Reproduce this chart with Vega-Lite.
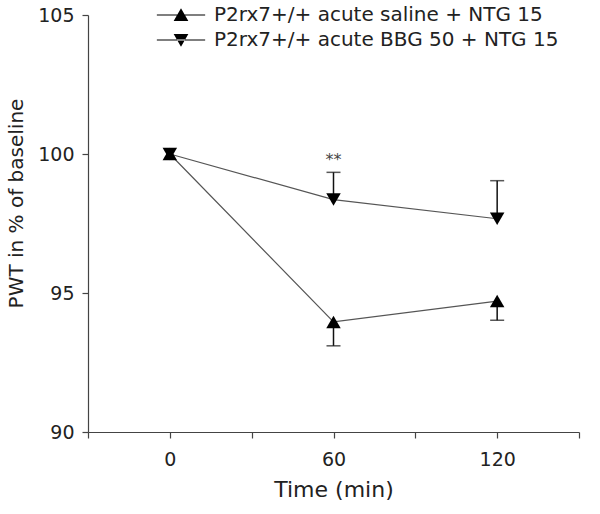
{
  "$schema": "https://vega.github.io/schema/vega-lite/v6.json",
  "width": 491,
  "height": 417,
  "autosize": {"type": "none"},
  "padding": {"left": 88, "top": 15, "right": 21, "bottom": 82},
  "background": "white",
  "config": {
    "view": {"stroke": null},
    "font": "DejaVu Sans",
    "axis": {
      "domainColor": "#444", "tickColor": "#444", "labelColor": "#222", "titleColor": "#222",
      "labelFont": "DejaVu Sans", "titleFont": "DejaVu Sans",
      "labelFontSize": 19, "titleFontSize": 20, "titleFontWeight": "normal",
      "grid": false, "tickSize": 6, "domainWidth": 1.2, "tickWidth": 1.2
    }
  },
  "data": {
    "values": [
      {"group": "P2rx7+/+ acute saline + NTG 15", "time": 0, "mean": 100, "err": null, "label": null},
      {"group": "P2rx7+/+ acute saline + NTG 15", "time": 60, "mean": 93.96, "err": 93.1, "label": null},
      {"group": "P2rx7+/+ acute saline + NTG 15", "time": 120, "mean": 94.71, "err": 94.02, "label": null},
      {"group": "P2rx7+/+ acute BBG 50 + NTG 15", "time": 0, "mean": 100, "err": null, "label": null},
      {"group": "P2rx7+/+ acute BBG 50 + NTG 15", "time": 60, "mean": 98.36, "err": 99.34, "label": "**"},
      {"group": "P2rx7+/+ acute BBG 50 + NTG 15", "time": 120, "mean": 97.67, "err": 99.04, "label": null}
    ]
  },
  "encoding": {
    "x": {
      "field": "time", "type": "quantitative",
      "scale": {"domain": [-30, 150], "nice": false, "zero": false},
      "axis": {
        "title": "Time (min)", "values": [-30, 0, 30, 60, 90, 120, 150],
        "labelExpr": "datum.value == 0 || datum.value == 60 || datum.value == 120 ? datum.label : ''",
        "labelPadding": 12, "titlePadding": 10, "titleFontSize": 22, "labelFlush": false
      }
    },
    "y": {
      "field": "mean", "type": "quantitative",
      "scale": {"domain": [90, 105], "nice": false, "zero": false},
      "axis": {"title": "PWT in % of baseline", "values": [90, 95, 100, 105], "labelPadding": 8, "titlePadding": 11, "titleY": 188}
    }
  },
  "resolve": {"scale": {"shape": "independent"}},
  "layer": [
    {
      "mark": {"type": "line", "color": "#555", "strokeWidth": 1.2},
      "encoding": {"detail": {"field": "group"}}
    },
    {
      "transform": [{"filter": "isValid(datum.err)"}],
      "mark": {"type": "rule", "color": "#111", "strokeWidth": 1.5},
      "encoding": {"y2": {"field": "err"}}
    },
    {
      "transform": [{"filter": "isValid(datum.err)"}],
      "mark": {"type": "tick", "orient": "horizontal", "color": "#111", "size": 14, "thickness": 1.5},
      "encoding": {"y": {"field": "err", "type": "quantitative"}}
    },
    {
      "mark": {"type": "point", "filled": true, "opacity": 1, "size": 210, "color": "#000"},
      "encoding": {
        "shape": {
          "field": "group", "type": "nominal",
          "scale": {
            "domain": ["P2rx7+/+ acute saline + NTG 15", "P2rx7+/+ acute BBG 50 + NTG 15"],
            "range": ["triangle-up", "triangle-down"]
          },
          "legend": null
        }
      }
    },
    {
      "transform": [{"filter": "false"}],
      "mark": {"type": "point", "filled": true, "opacity": 1, "size": 196, "color": "#000"},
      "encoding": {
        "shape": {
          "field": "group", "type": "nominal",
          "scale": {
            "domain": ["P2rx7+/+ acute saline + NTG 15", "P2rx7+/+ acute BBG 50 + NTG 15"],
            "range": ["M-3.45,-0.08H3.45V0.08H-3.45ZM0,-0.95L1.05,0.85L-1.05,0.85Z", "M-3.45,-0.08H3.45V0.08H-3.45ZM0,0.95L1.05,-0.85L-1.05,-0.85Z"]
          },
          "legend": {
            "title": null, "orient": "none", "legendX": 83, "legendY": -10, "padding": 0,
            "labelFontSize": 20, "labelFont": "DejaVu Sans", "labelColor": "#222", "labelLimit": 500,
            "symbolSize": 196, "labelOffset": 23, "rowPadding": 5,
            "symbolFillColor": "#000", "symbolOpacity": 1
          }
        }
      }
    },
    {
      "transform": [{"filter": "isValid(datum.label)"}],
      "mark": {"type": "text", "dy": -12, "fontSize": 16, "color": "#444"},
      "encoding": {"y": {"field": "err", "type": "quantitative"}, "text": {"field": "label"}}
    }
  ]
}
